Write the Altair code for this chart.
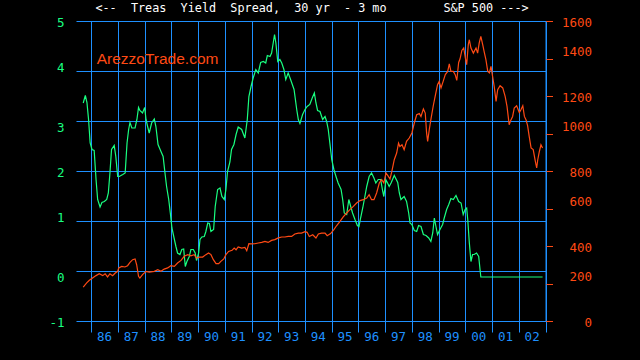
import altair as alt
import pandas as pd

# ---------------- data ----------------
grid_years = list(range(1986, 2004))
label_years = list(range(1986, 2003))
year_labels = ["86", "87", "88", "89", "90", "91", "92", "93", "94", "95",
               "96", "97", "98", "99", "00", "01", "02"]
spread_ticks = [-1, 0, 1, 2, 3, 4, 5]
sp_ticks = [0, 200, 400, 600, 800, 1000, 1200, 1400, 1600]

# Treasury yield spread, 30 yr - 3 mo (left axis)
spread_t = [1985.70, 1985.78, 1985.84, 1985.90, 1985.96, 1986.03, 1986.11, 1986.18, 1986.24, 1986.33,
            1986.40, 1986.49, 1986.58, 1986.64, 1986.70, 1986.76, 1986.86, 1986.92, 1986.99, 1987.05,
            1987.18, 1987.27, 1987.34, 1987.40, 1987.45, 1987.52, 1987.64, 1987.71, 1987.77, 1987.82,
            1987.92, 1988.00, 1988.05, 1988.11, 1988.17, 1988.26, 1988.36, 1988.42, 1988.50, 1988.61,
            1988.69, 1988.76, 1988.82, 1988.90, 1988.96, 1989.02, 1989.10, 1989.17, 1989.23, 1989.32,
            1989.39, 1989.46, 1989.52, 1989.58, 1989.67, 1989.73, 1989.82, 1989.89, 1989.94, 1990.02,
            1990.07, 1990.14, 1990.23, 1990.29, 1990.36, 1990.42, 1990.48, 1990.58, 1990.64, 1990.73,
            1990.82, 1990.89, 1990.98, 1991.04, 1991.10, 1991.19, 1991.25, 1991.34, 1991.42, 1991.50,
            1991.63, 1991.75, 1991.84, 1991.90, 1991.98, 1992.06, 1992.16, 1992.25, 1992.34, 1992.44,
            1992.53, 1992.59, 1992.69, 1992.75, 1992.81, 1992.86, 1992.91, 1992.98, 1993.06, 1993.13,
            1993.21, 1993.28, 1993.37, 1993.46, 1993.59, 1993.69, 1993.75, 1993.81, 1993.91, 1994.00,
            1994.08, 1994.18, 1994.27, 1994.35, 1994.41, 1994.47, 1994.56, 1994.66, 1994.75, 1994.81,
            1994.87, 1994.93, 1995.00, 1995.08, 1995.16, 1995.24, 1995.35, 1995.41, 1995.47, 1995.56,
            1995.64, 1995.71, 1995.78, 1995.87, 1995.96, 1996.02, 1996.08, 1996.16, 1996.24, 1996.31,
            1996.40, 1996.49, 1996.58, 1996.65, 1996.74, 1996.83, 1996.91, 1996.95, 1997.03, 1997.09,
            1997.15, 1997.22, 1997.34, 1997.47, 1997.53, 1997.59, 1997.71, 1997.80, 1997.88, 1997.93,
            1998.00, 1998.09, 1998.18, 1998.25, 1998.34, 1998.43, 1998.53, 1998.63, 1998.71, 1998.78,
            1998.84, 1998.90, 1998.96, 1999.05, 1999.15, 1999.21, 1999.30, 1999.38, 1999.46, 1999.55,
            1999.65, 1999.75, 1999.84, 1999.92, 1999.99, 2000.05, 2000.09, 2000.15, 2000.21, 2000.27,
            2000.33, 2000.42, 2000.50, 2000.55, 2000.58, 2002.89]
spread_v = [3.36, 3.51, 3.37, 3.03, 2.56, 2.43, 2.41, 1.83, 1.43, 1.28,
            1.37, 1.39, 1.43, 1.56, 1.96, 2.43, 2.51, 2.29, 1.89, 1.89,
            1.93, 1.96, 2.56, 2.83, 2.97, 2.86, 2.86, 3.03, 3.27, 3.21,
            3.16, 3.27, 3.03, 2.89, 2.76, 2.96, 3.04, 2.89, 2.53, 2.39,
            2.29, 1.96, 1.69, 1.43, 1.16, 0.86, 0.66, 0.49, 0.36, 0.33,
            0.43, 0.44, 0.09, 0.19, 0.29, 0.43, 0.43, 0.36, 0.21, 0.36,
            0.63, 0.68, 0.69, 0.79, 0.96, 0.95, 0.79, 0.83, 1.29, 1.63,
            1.66, 1.49, 1.43, 1.63, 1.99, 2.18, 2.43, 2.53, 2.73, 2.88,
            2.83, 2.66, 3.03, 3.49, 3.69, 3.86, 4.03, 3.96, 4.17, 4.19,
            4.16, 4.31, 4.29, 4.36, 4.56, 4.73, 4.56, 4.19, 4.23, 4.16,
            4.03, 3.83, 3.96, 3.83, 3.63, 3.23, 3.03, 2.95, 3.13, 3.23,
            3.29, 3.33, 3.46, 3.56, 3.36, 3.21, 3.19, 3.03, 3.09, 2.99,
            2.83, 2.56, 2.23, 2.03, 1.89, 1.76, 1.63, 1.43, 1.16, 1.13,
            1.43, 1.29, 1.16, 1.03, 0.91, 0.89, 1.06, 1.26, 1.49, 1.69,
            1.89, 1.96, 1.86, 1.76, 1.83, 1.83, 1.59, 1.49, 1.82, 1.76,
            1.69, 1.76, 1.91, 1.77, 1.56, 1.43, 1.49, 1.39, 1.16, 0.96,
            0.93, 0.81, 0.79, 0.91, 0.89, 0.73, 0.71, 0.66, 0.59, 0.76,
            1.06, 0.89, 0.73, 0.83, 0.93, 1.06, 1.23, 1.33, 1.45, 1.43,
            1.51, 1.39, 1.36, 1.13, 1.23, 1.26, 1.03, 0.56, 0.19, 0.33,
            0.33, 0.36, 0.29, 0.03, -0.12, -0.12]

# S&P 500 (right axis)
sp_t = [1985.70, 1985.83, 1985.93, 1986.05, 1986.18, 1986.30, 1986.43, 1986.52, 1986.61, 1986.70,
        1986.80, 1986.90, 1986.99, 1987.03, 1987.14, 1987.26, 1987.36, 1987.45, 1987.55, 1987.64,
        1987.70, 1987.77, 1987.82, 1987.92, 1988.05, 1988.17, 1988.36, 1988.49, 1988.61, 1988.73,
        1988.86, 1988.98, 1989.11, 1989.23, 1989.36, 1989.48, 1989.61, 1989.73, 1989.85, 1989.94,
        1990.04, 1990.17, 1990.29, 1990.39, 1990.48, 1990.57, 1990.67, 1990.77, 1990.85, 1990.96,
        1991.04, 1991.14, 1991.27, 1991.35, 1991.42, 1991.50, 1991.63, 1991.75, 1991.82, 1991.90,
        1992.00, 1992.12, 1992.25, 1992.38, 1992.50, 1992.62, 1992.75, 1992.87, 1993.00, 1993.13,
        1993.25, 1993.37, 1993.50, 1993.62, 1993.75, 1993.87, 1994.00, 1994.08, 1994.16, 1994.29,
        1994.41, 1994.50, 1994.62, 1994.75, 1994.83, 1994.96, 1995.08, 1995.18, 1995.31, 1995.43,
        1995.56, 1995.68, 1995.81, 1995.93, 1996.06, 1996.18, 1996.31, 1996.40, 1996.49, 1996.58,
        1996.68, 1996.78, 1996.87, 1996.95, 1997.03, 1997.12, 1997.18, 1997.25, 1997.34, 1997.43,
        1997.50, 1997.55, 1997.63, 1997.71, 1997.80, 1997.90, 1998.00, 1998.09, 1998.18, 1998.28,
        1998.34, 1998.43, 1998.50, 1998.55, 1998.59, 1998.65, 1998.71, 1998.80, 1998.87, 1998.96,
        1999.02, 1999.09, 1999.17, 1999.25, 1999.34, 1999.40, 1999.46, 1999.55, 1999.62, 1999.68,
        1999.75, 1999.80, 1999.87, 1999.94, 2000.00, 2000.05, 2000.11, 2000.15, 2000.21, 2000.30,
        2000.40, 2000.46, 2000.52, 2000.58, 2000.65, 2000.71, 2000.77, 2000.84, 2000.90, 2000.96,
        2001.02, 2001.08, 2001.15, 2001.21, 2001.30, 2001.40, 2001.49, 2001.56, 2001.64, 2001.71,
        2001.77, 2001.83, 2001.92, 2002.02, 2002.08, 2002.15, 2002.21, 2002.27, 2002.33, 2002.39,
        2002.46, 2002.54, 2002.62, 2002.67, 2002.71, 2002.77, 2002.83, 2002.89]
sp_v = [181, 203, 217, 229, 242, 252, 242, 252, 235, 252,
        242, 256, 265, 283, 291, 288, 295, 313, 327, 331,
        300, 238, 229, 247, 265, 261, 265, 274, 265, 277,
        283, 295, 291, 309, 323, 345, 354, 348, 354, 336,
        341, 341, 354, 363, 354, 327, 306, 306, 318, 331,
        354, 371, 377, 389, 380, 395, 389, 393, 375, 412,
        411, 412, 416, 419, 425, 419, 430, 434, 443, 448,
        448, 451, 451, 464, 469, 469, 476, 473, 451, 460,
        443, 464, 469, 469, 455, 466, 487, 508, 531, 555,
        576, 594, 611, 629, 642, 647, 656, 674, 647, 647,
        683, 736, 754, 736, 789, 771, 757, 798, 860, 896,
        949, 931, 940, 914, 958, 976, 1003, 1056, 1100, 1106,
        1091, 1131, 1109, 1003, 958, 1020, 1074, 1148, 1198, 1260,
        1278, 1243, 1278, 1314, 1331, 1372, 1331, 1331, 1314, 1283,
        1379, 1397, 1443, 1456, 1403, 1367, 1474, 1500, 1456, 1429,
        1456, 1429, 1483, 1518, 1474, 1433, 1394, 1331, 1323, 1358,
        1305, 1251, 1171, 1234, 1255, 1243, 1198, 1145, 1047, 1074,
        1091, 1136, 1148, 1112, 1127, 1148, 1091, 1074, 1042, 985,
        923, 914, 851, 816, 860, 904, 940, 923]

title_text = "<--  Treas  Yield  Spread,  30 yr  - 3 mo        S&P 500 --->"
watermark_text = "ArezzoTrade.com"

# ---------------- styling ----------------
GREEN = "#19ff80"
RED = "#ff4a14"
BLUE = "#1e90ff"
MONO = "DejaVu Sans Mono"

df_spread = pd.DataFrame({"t": spread_t, "v": spread_v})
df_sp = pd.DataFrame({"t": sp_t, "v": sp_v})
df_lab = pd.DataFrame({"t": [y + 0.5 for y in label_years], "label": year_labels})

xscale = alt.Scale(domain=[1985.43, 2003.0], nice=False, zero=False)
x_axis = alt.Axis(values=grid_years, grid=True, gridColor=BLUE, gridOpacity=1, gridWidth=1,
                  ticks=True, tickColor=BLUE, tickSize=11, tickWidth=1, domain=False,
                  labels=False, title=None)
X = alt.X("t:Q", scale=xscale, axis=x_axis)

left_axis = alt.Axis(orient="left", values=spread_ticks, grid=True, gridColor=BLUE,
                     gridOpacity=1, gridWidth=1, ticks=False, domain=False,
                     labelExpr="'' + datum.value",
                     labelColor=GREEN, labelFont=MONO, labelFontSize=12.5, labelPadding=12,
                     labelOffset={"condition": [
                         {"test": "datum.value == 4 || datum.value == 1", "value": -4},
                         {"test": "datum.value == 3 || datum.value == 0", "value": 6}],
                         "value": 1},
                     title=None)

right_axis = alt.Axis(orient="right", values=sp_ticks, grid=False, ticks=True,
                      tickColor=RED, tickSize=7, tickWidth=1, domain=True, domainColor=BLUE,
                      domainWidth=1, labelExpr="'' + datum.value",
                      labelColor=RED, labelFont=MONO, labelFontSize=12.5,
                      labelAlign="right", labelPadding=39,
                      labelOffset={"condition": {"test": "datum.value % 400 == 200", "value": -7},
                                   "value": 1},
                      title=None)

spread_line = alt.Chart(df_spread).mark_line(color=GREEN, strokeWidth=1.2).encode(
    x=X,
    y=alt.Y("v:Q", scale=alt.Scale(domain=[-1, 5], nice=False, zero=False), axis=left_axis),
)

sp_line = alt.Chart(df_sp).mark_line(color=RED, strokeWidth=1.2).encode(
    x=X,
    y=alt.Y("v:Q", scale=alt.Scale(domain=[0, 1600], nice=False, zero=False), axis=right_axis),
)

year_text = alt.Chart(df_lab).mark_text(color=BLUE, font=MONO, fontSize=12.5,
                                        align="center", baseline="middle").encode(
    x=X, y=alt.value(316), text="label:N")

# non-breaking spaces keep the wide gaps of the original heading
title_mark = alt.Chart(pd.DataFrame({"s": [title_text.replace(" ", "\u00a0")]})).mark_text(
    color="white", font=MONO, fontSize=11.8, align="center", baseline="middle").encode(
    x=alt.value(236), y=alt.value(-13), text="s:N")

watermark = alt.Chart(pd.DataFrame({"s": [watermark_text]})).mark_text(
    color=RED, font="Liberation Sans", fontSize=15.5, align="left", baseline="middle").encode(
    x=alt.value(20.7), y=alt.value(38), text="s:N")

left_layer = alt.layer(spread_line, year_text, title_mark, watermark)

chart = alt.layer(left_layer, sp_line).resolve_scale(y="independent").properties(
    width=469.5, height=300,
    autosize=alt.AutoSizeParams(type="none"),
    padding={"left": 76, "top": 21, "right": 94, "bottom": 39},
    background="#000000",
).configure_view(stroke=None)

chart.save("out.html", embed_options={"renderer": "svg", "actions": False,
                                      "defaultStyle": "body{background:#000000;margin:0;overflow:hidden;}"})
